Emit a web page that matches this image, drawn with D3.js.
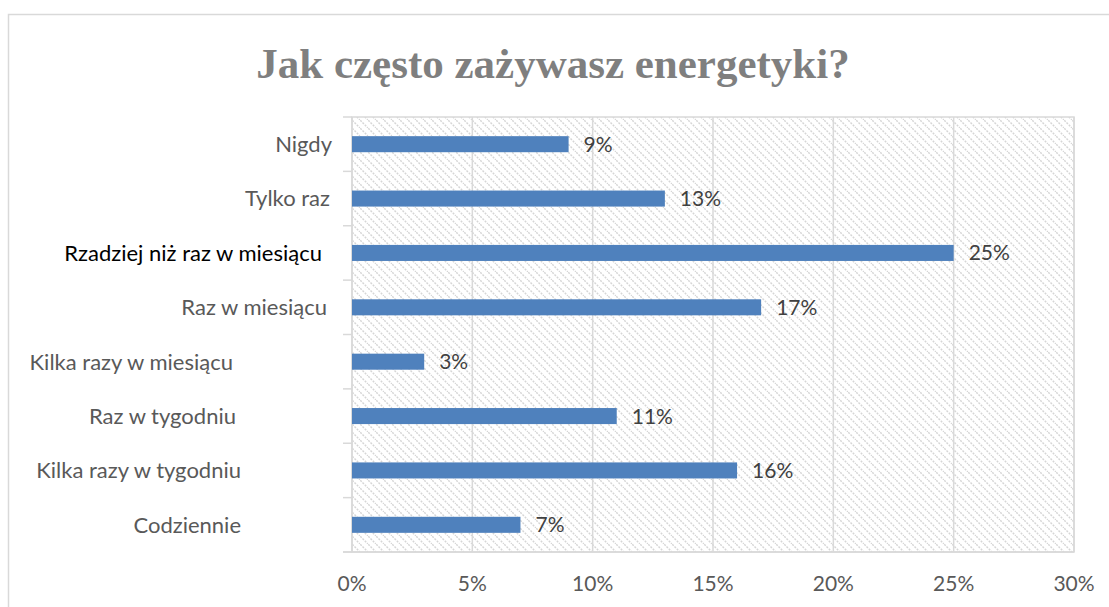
<!DOCTYPE html>
<html><head><meta charset="utf-8">
<script src="https://cdn.jsdelivr.net/npm/d3@7"></script>
<style>
body{margin:0;background:#fff;}
svg{display:block;}
</style></head>
<body>
<svg id="chart" width="1109" height="607"></svg>
<script>
const categories = ["Nigdy","Tylko raz","Rzadziej niż raz w miesiącu","Raz w miesiącu","Kilka razy w miesiącu","Raz w tygodniu","Kilka razy w tygodniu","Codziennie"];
const values = [0.09,0.13,0.25,0.17,0.03,0.11,0.16,0.07];
const valueLabels = ["9%","13%","25%","17%","3%","11%","16%","7%"];
const xTicks = [0,0.05,0.10,0.15,0.20,0.25,0.30];
const title = "Jak często zażywasz energetyki?";
// layout: right edge of each category label (the source has uneven alignment)
const labelEnd = [332,330,322,327,233,236,241,241];
const labelColor = ["#595959","#595959","#000000","#595959","#595959","#595959","#595959","#595959"];

const svg = d3.select("#chart");
const L=352,R=1074,T=117,B=552;
const x = d3.scaleLinear().domain([0,0.30]).range([L,R]);
const y = d3.scaleBand().domain(categories).range([T,B]).paddingInner(0.705).paddingOuter(0.3525);

// outer chart border
svg.append("rect").attr("x",8.5).attr("y",14.5).attr("width",1120).attr("height",700)
  .attr("fill","#fff").attr("stroke","#d9d9d9").attr("stroke-width",1.5);

const defs = svg.append("defs");
const pat = defs.append("pattern").attr("id","hatch").attr("patternUnits","userSpaceOnUse")
  .attr("width",8).attr("height",8);
pat.append("path").attr("d","M-2,-2 L10,10 M-2,6 L2,10 M6,-2 L10,2")
  .attr("stroke","#d6d6d6").attr("stroke-width",1.5).attr("stroke-dasharray","2,1.2");

svg.append("text").attr("x",553).attr("y",78).attr("text-anchor","middle")
  .attr("font-family","Liberation Serif, DejaVu Serif, serif").attr("font-weight","bold")
  .attr("font-size",43).attr("fill","#7f7f7f").text(title);

// plot area
svg.append("rect").attr("x",L).attr("y",T).attr("width",R-L).attr("height",B-T)
  .attr("fill","url(#hatch)").attr("stroke","#d9d9d9").attr("stroke-width",1.5);

// gridlines
svg.append("g").selectAll("line").data(xTicks.slice(1)).join("line")
  .attr("x1",d=>x(d)).attr("x2",d=>x(d)).attr("y1",T).attr("y2",B)
  .attr("stroke","#d9d9d9").attr("stroke-width",1.5);

// category tick marks
const bounds = categories.map(c=>y(c)-y.step()*y.paddingInner()/2).concat([B]);
svg.append("g").selectAll("line").data(bounds).join("line")
  .attr("x1",343).attr("x2",L).attr("y1",d=>d).attr("y2",d=>d)
  .attr("stroke","#d9d9d9").attr("stroke-width",1.5);
svg.append("line").attr("x1",L).attr("x2",L).attr("y1",T).attr("y2",B).attr("stroke","#d9d9d9").attr("stroke-width",1.5);
svg.append("line").attr("x1",343).attr("x2",R).attr("y1",B).attr("y2",B).attr("stroke","#d9d9d9").attr("stroke-width",1.5);

// bars
svg.append("g").selectAll("rect").data(values).join("rect")
  .attr("x",x(0)).attr("y",(d,i)=>y(categories[i])).attr("width",d=>x(d)-x(0)).attr("height",y.bandwidth())
  .attr("fill","#4f81bd");

// value labels
svg.append("g").selectAll("text").data(values).join("text")
  .attr("x",d=>x(d)+15).attr("y",(d,i)=>y(categories[i])+y.bandwidth()/2).attr("dy","0.36em")
  .attr("font-family","Lato, sans-serif").attr("font-size",21).attr("fill","#404040")
  .text((d,i)=>valueLabels[i]);

// category labels
svg.append("g").selectAll("text").data(categories).join("text")
  .attr("x",(d,i)=>labelEnd[i]).attr("y",d=>y(d)+y.bandwidth()/2).attr("dy","0.36em")
  .attr("text-anchor","end").attr("font-family","Lato, sans-serif").attr("font-size",22)
  .attr("fill",(d,i)=>labelColor[i]).text(d=>d);

// x axis labels
svg.append("g").selectAll("text").data(xTicks).join("text")
  .attr("x",d=>x(d)).attr("y",583).attr("dy","0.36em").attr("text-anchor","middle")
  .attr("font-family","Lato, sans-serif").attr("font-size",21).attr("fill","#595959")
  .text(d=>Math.round(d*100)+"%");
</script>
</body></html>
